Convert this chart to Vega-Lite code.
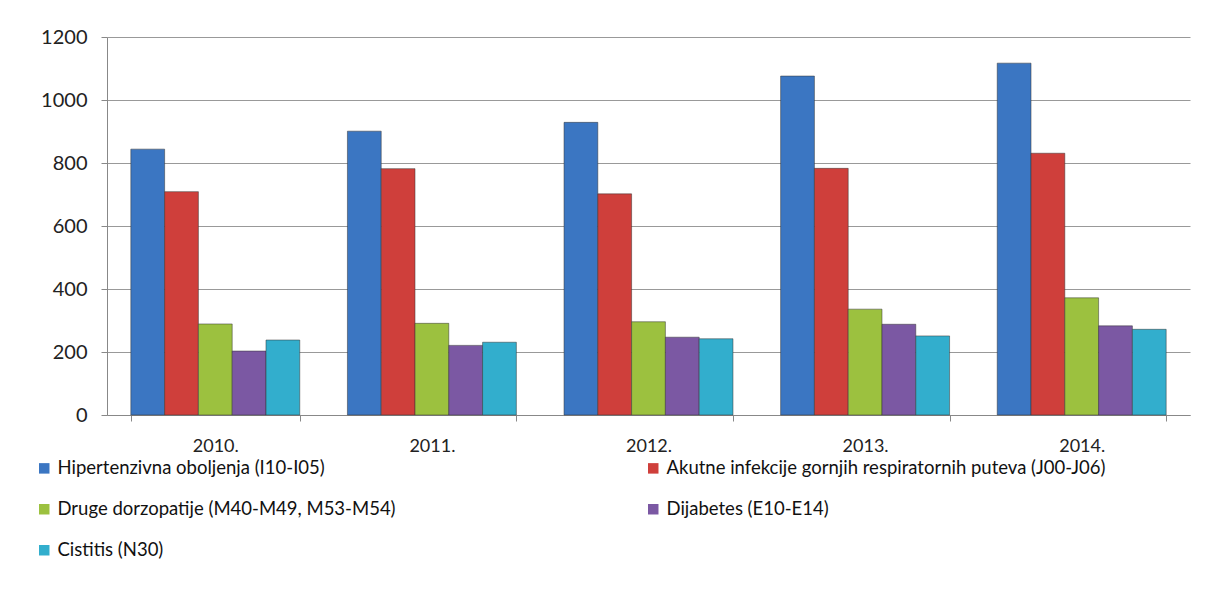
{
  "$schema": "https://vega.github.io/schema/vega-lite/v6.json",
  "autosize": {"type": "none"},
  "width": 1083,
  "height": 378,
  "padding": {"left": 107, "top": 37, "right": 17, "bottom": 197},
  "background": "white",
  "config": {
    "font": "Lato",
    "view": {"stroke": null}
  },
  "data": {
    "values": [
      {"godina": "2010.", "bolest": "Hipertenzivna oboljenja (I10-I05)", "broj": 844},
      {"godina": "2010.", "bolest": "Akutne infekcije gornjih respiratornih puteva (J00-J06)", "broj": 709},
      {"godina": "2010.", "bolest": "Druge dorzopatije (M40-M49, M53-M54)", "broj": 289},
      {"godina": "2010.", "bolest": "Dijabetes (E10-E14)", "broj": 203},
      {"godina": "2010.", "bolest": "Cistitis (N30)", "broj": 238},
      {"godina": "2011.", "bolest": "Hipertenzivna oboljenja (I10-I05)", "broj": 901},
      {"godina": "2011.", "bolest": "Akutne infekcije gornjih respiratornih puteva (J00-J06)", "broj": 782},
      {"godina": "2011.", "bolest": "Druge dorzopatije (M40-M49, M53-M54)", "broj": 291},
      {"godina": "2011.", "bolest": "Dijabetes (E10-E14)", "broj": 221},
      {"godina": "2011.", "bolest": "Cistitis (N30)", "broj": 231},
      {"godina": "2012.", "bolest": "Hipertenzivna oboljenja (I10-I05)", "broj": 929},
      {"godina": "2012.", "bolest": "Akutne infekcije gornjih respiratornih puteva (J00-J06)", "broj": 702},
      {"godina": "2012.", "bolest": "Druge dorzopatije (M40-M49, M53-M54)", "broj": 296},
      {"godina": "2012.", "bolest": "Dijabetes (E10-E14)", "broj": 247},
      {"godina": "2012.", "bolest": "Cistitis (N30)", "broj": 242},
      {"godina": "2013.", "bolest": "Hipertenzivna oboljenja (I10-I05)", "broj": 1076},
      {"godina": "2013.", "bolest": "Akutne infekcije gornjih respiratornih puteva (J00-J06)", "broj": 783},
      {"godina": "2013.", "bolest": "Druge dorzopatije (M40-M49, M53-M54)", "broj": 336},
      {"godina": "2013.", "bolest": "Dijabetes (E10-E14)", "broj": 288},
      {"godina": "2013.", "bolest": "Cistitis (N30)", "broj": 251},
      {"godina": "2014.", "bolest": "Hipertenzivna oboljenja (I10-I05)", "broj": 1117},
      {"godina": "2014.", "bolest": "Akutne infekcije gornjih respiratornih puteva (J00-J06)", "broj": 831},
      {"godina": "2014.", "bolest": "Druge dorzopatije (M40-M49, M53-M54)", "broj": 372},
      {"godina": "2014.", "bolest": "Dijabetes (E10-E14)", "broj": 283},
      {"godina": "2014.", "bolest": "Cistitis (N30)", "broj": 272}
    ]
  },
  "mark": {"type": "bar", "stroke": "#33333380", "strokeWidth": 1},
  "encoding": {
    "x": {
      "field": "godina",
      "type": "nominal",
      "title": null,
      "scale": {"paddingInner": 0.22, "paddingOuter": 0.11},
      "axis": {
        "labelAngle": 0,
        "labelFontSize": 18,
        "labelColor": "#222",
        "labelPadding": 16,
        "domainColor": "#888",
        "tickColor": "#888",
        "tickSize": 6,
        "tickBand": "extent",
        "grid": false
      }
    },
    "xOffset": {
      "field": "bolest",
      "type": "nominal",
      "sort": [
        "Hipertenzivna oboljenja (I10-I05)",
        "Akutne infekcije gornjih respiratornih puteva (J00-J06)",
        "Druge dorzopatije (M40-M49, M53-M54)",
        "Dijabetes (E10-E14)",
        "Cistitis (N30)"
      ],
      "scale": {"paddingInner": 0, "paddingOuter": 0}
    },
    "y": {
      "field": "broj",
      "type": "quantitative",
      "title": null,
      "scale": {"domain": [0, 1200], "nice": false},
      "axis": {
        "values": [0, 200, 400, 600, 800, 1000, 1200],
        "format": "d",
        "labelFontSize": 20,
        "labelColor": "#222",
        "labelPadding": 14,
        "domainColor": "#888",
        "tickColor": "#888",
        "tickSize": 6,
        "gridColor": "#999",
        "gridWidth": 1
      }
    },
    "color": {
      "field": "bolest",
      "type": "nominal",
      "sort": [
        "Hipertenzivna oboljenja (I10-I05)",
        "Akutne infekcije gornjih respiratornih puteva (J00-J06)",
        "Druge dorzopatije (M40-M49, M53-M54)",
        "Dijabetes (E10-E14)",
        "Cistitis (N30)"
      ],
      "scale": {
        "range": ["#3B76C2", "#CF3F3B", "#9CC13F", "#7B58A3", "#32AECD"]
      },
      "legend": {
        "title": null,
        "orient": "none",
        "direction": "horizontal",
        "legendX": -72,
        "legendY": 422,
        "columns": 2,
        "columnPadding": 248,
        "rowPadding": 22,
        "symbolType": "square",
        "symbolSize": 110,
        "symbolStrokeWidth": 0,
        "labelFontSize": 18.5,
        "labelColor": "#111",
        "labelLimit": 600,
        "labelOffset": 4
      }
    }
  }
}
